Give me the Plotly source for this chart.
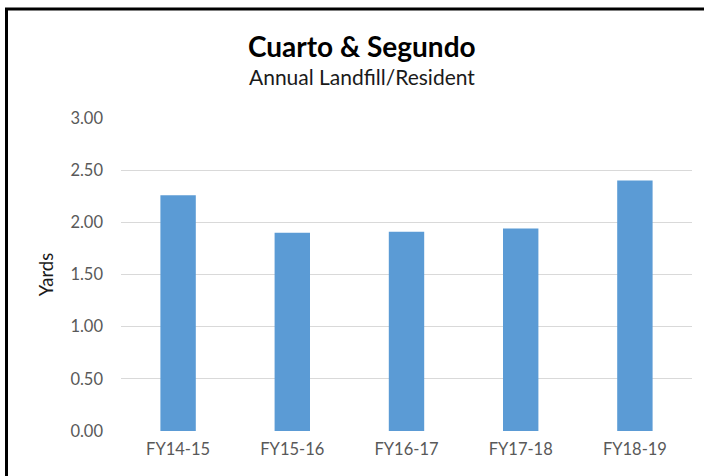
import plotly.graph_objects as go

categories = ["FY14-15", "FY15-16", "FY16-17", "FY17-18", "FY18-19"]
values = [2.26, 1.90, 1.91, 1.94, 2.40]
y_ticks = [0, 0.5, 1.0, 1.5, 2.0, 2.5, 3.0]
y_tick_labels = ["0.00", "0.50", "1.00", "1.50", "2.00", "2.50", "3.00"]

W, H = 704, 476
L, R, T, B = 121, 12, 118, 45
pw, ph = W - L - R, H - T - B

def px(x):
    return (x - L) / pw

def py(y):
    return (H - B - y) / ph

FONT = "Lato, 'Open Sans', sans-serif"

fig = go.Figure(go.Bar(
    x=categories, y=values,
    marker=dict(color="#5B9BD5", line=dict(width=0)),
    width=0.31,
))

fig.update_layout(
    width=W, height=H,
    margin=dict(l=L, r=R, t=T, b=B, autoexpand=False),
    paper_bgcolor="white", plot_bgcolor="white",
    showlegend=False,
    font=dict(family=FONT, size=16, color="#595959"),
    xaxis=dict(showgrid=False, showline=False, ticks="", tickfont=dict(size=16.5, color="#595959"),
               ticklabelstandoff=6),
    yaxis=dict(range=[0, 3], tickvals=y_ticks, ticktext=y_tick_labels,
               showgrid=True, gridcolor="#D9D9D9", gridwidth=1, zeroline=False,
               showline=False, ticks="", tickfont=dict(size=16.5, color="#595959"),
               ticklabelstandoff=17,
               title=dict(text="Yards", font=dict(size=18.5, color="#1a1a1a"), standoff=11)),
    annotations=[
        dict(text="<b>Cuarto &amp; Segundo</b>", x=px(361.5), y=py(46), xref="paper", yref="paper",
             xanchor="center", yanchor="middle", showarrow=False,
             font=dict(size=28, color="#000000", family=FONT)),
        dict(text="Annual Landfill/Resident", x=px(361.5), y=py(76), xref="paper", yref="paper",
             xanchor="center", yanchor="middle", showarrow=False,
             font=dict(size=21, color="#1a1a1a", family=FONT)),
    ],
    shapes=[
        dict(type="line", xref="paper", yref="paper", x0=px(6.5), x1=px(6.5), y0=py(480), y1=py(9),
             line=dict(color="black", width=3)),
        dict(type="line", xref="paper", yref="paper", x0=px(5), x1=px(710), y0=py(9), y1=py(9),
             line=dict(color="black", width=3)),
    ],
)

fig.write_html("out.html", config={"displayModeBar": False},
               post_script="document.body.style.margin='0';document.body.style.overflow='hidden';")
